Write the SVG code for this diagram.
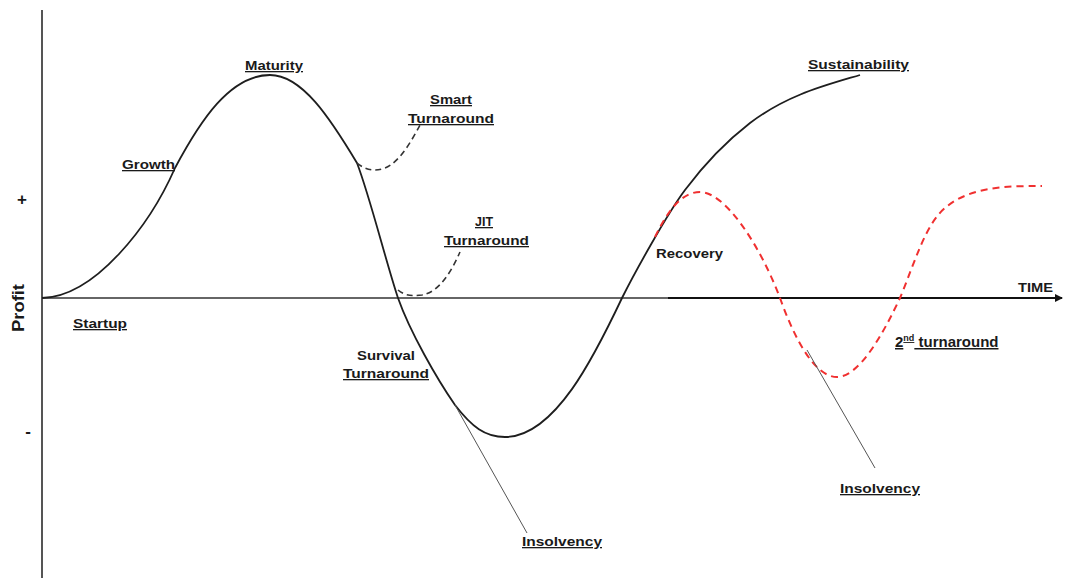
<svg xmlns="http://www.w3.org/2000/svg" width="1069" height="578" viewBox="0 0 1069 578">
<style>
.lbl{font-family:"Liberation Sans",Arial,sans-serif;font-weight:bold;font-size:13px;fill:#1a1a1a}
.u{text-decoration:underline}
.main{fill:none;stroke:#1e1e1e;stroke-width:1.8}
.dash{fill:none;stroke:#333;stroke-width:1.6;stroke-dasharray:6 4}
.red{fill:none;stroke:#f03030;stroke-width:2;stroke-dasharray:7 5}
.thin{fill:none;stroke:#555;stroke-width:1}
.axis{stroke:#555;stroke-width:2;fill:none}
</style>
<defs>
<marker id="arr" markerWidth="8" markerHeight="8" refX="7" refY="4" orient="auto" markerUnits="userSpaceOnUse">
<path d="M0,0 L8,4 L0,8 Z" fill="#111"/>
</marker>
</defs>
<rect width="1069" height="578" fill="#fff"/>
<g id="axes">
<line class="axis" x1="42" y1="10" x2="42" y2="578"/>
<line class="axis" x1="42" y1="298" x2="670" y2="298" style="stroke:#666"/>
<line x1="668" y1="298" x2="1062" y2="298" stroke="#111" stroke-width="2.2" marker-end="url(#arr)"/>
<text class="lbl" x="22" y="205" text-anchor="middle" style="font-size:17px">+</text>
<text class="lbl" x="28" y="437" text-anchor="middle" style="font-size:17px">-</text>
<text class="lbl" transform="translate(24,308) rotate(-90)" text-anchor="middle" style="font-size:16px" textLength="48" lengthAdjust="spacingAndGlyphs">Profit</text>
<text class="lbl" x="1018" y="292" textLength="35" lengthAdjust="spacingAndGlyphs">TIME</text>
</g>
<g id="connectors">
<path id="main-curve" class="main" d="M42,298 C95,297 150,225 175,168 C200,121 230,75 270,75 C302,75 330,118 357,163 C370,197 386,262 398,298 C410,332 437,379 455,405 C472,427 485,437 505,437 C555,437 595,355 622,298 C634,274 667,214 685,190 C703,166 728,140 750,123 C787,95 823,86 860,75"/>
<path id="smart-branch" class="dash" d="M357,163 C365,170 375,172 385,168 C400,162 412,140 420,125"/>
<path id="jit-branch" class="dash" d="M398,290 C405,296 412,296 422,295 C440,292 452,270 460,252"/>
<path id="second-turnaround" class="red" d="M655,237 C668,210 682,192 700,192 C725,192 760,245 780,298 C795,340 815,377 837,377 C860,377 885,330 900,298 C915,262 925,225 945,208 C970,186 1010,186 1042,186"/>
<line id="insolvency-1" class="thin" x1="455" y1="405" x2="527" y2="533"/>
<line id="insolvency-2" class="thin" x1="807" y1="350" x2="875" y2="468"/>
</g>
<g id="startup"><text class="lbl u" x="73" y="328" textLength="54" lengthAdjust="spacingAndGlyphs">Startup</text></g>
<g id="growth"><text class="lbl u" x="122" y="169" textLength="53" lengthAdjust="spacingAndGlyphs">Growth</text></g>
<g id="maturity"><text class="lbl u" x="245" y="70" textLength="58" lengthAdjust="spacingAndGlyphs">Maturity</text></g>
<g id="smart-turnaround">
<text class="lbl u" x="430" y="104" textLength="42" lengthAdjust="spacingAndGlyphs">Smart</text>
<text class="lbl u" x="408" y="123" textLength="86" lengthAdjust="spacingAndGlyphs">Turnaround</text>
</g>
<g id="jit-turnaround">
<text class="lbl u" x="475" y="226" textLength="18" lengthAdjust="spacingAndGlyphs">JIT</text>
<text class="lbl u" x="444" y="245" textLength="85" lengthAdjust="spacingAndGlyphs">Turnaround</text>
</g>
<g id="survival-turnaround">
<text class="lbl" x="357" y="360" textLength="58" lengthAdjust="spacingAndGlyphs">Survival</text>
<text class="lbl u" x="343" y="378" textLength="86" lengthAdjust="spacingAndGlyphs">Turnaround</text>
</g>
<g id="insolvency-a"><text class="lbl u" x="522" y="546" textLength="80" lengthAdjust="spacingAndGlyphs">Insolvency</text></g>
<g id="recovery"><text class="lbl" x="656" y="258" textLength="67" lengthAdjust="spacingAndGlyphs">Recovery</text></g>
<g id="sustainability"><text class="lbl u" x="808" y="69" textLength="101" lengthAdjust="spacingAndGlyphs">Sustainability</text></g>
<g id="second-turnaround-label"><text class="lbl u" x="895" y="347" style="font-size:15px">2<tspan style="font-size:9px" dy="-6">nd</tspan><tspan dy="6"> turnaround</tspan></text></g>
<g id="insolvency-b"><text class="lbl u" x="840" y="493" textLength="80" lengthAdjust="spacingAndGlyphs">Insolvency</text></g>
</svg>
